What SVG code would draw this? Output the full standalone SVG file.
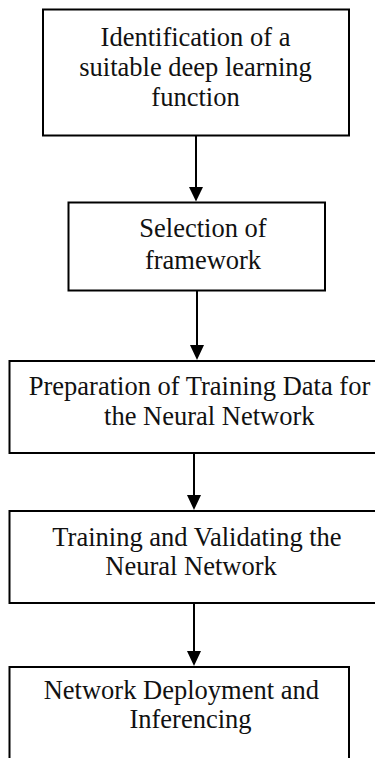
<svg xmlns="http://www.w3.org/2000/svg" width="375" height="758" viewBox="0 0 375 758">
<style>
.box{fill:#fff;stroke:#000;stroke-width:2}
.t{font-family:"Liberation Serif","Times New Roman",serif;font-size:26.5px;fill:#111;text-anchor:middle}
.ln{stroke:#000;stroke-width:2;fill:none}
.ah{fill:#000}
</style>
<rect width="375" height="758" fill="#fff"/>
<g id="connectors">
<line class="ln" x1="196" y1="135.5" x2="196" y2="188"/>
<polygon class="ah" points="189,187 203,187 196,201.5"/>
<line class="ln" x1="197" y1="291" x2="197" y2="346"/>
<polygon class="ah" points="190,345 204,345 197,360"/>
<line class="ln" x1="194" y1="453" x2="194" y2="496"/>
<polygon class="ah" points="187,495 201,495 194,510"/>
<line class="ln" x1="194" y1="603" x2="194" y2="652"/>
<polygon class="ah" points="187,651 201,651 194,666"/>
</g>
<g id="node1">
<rect class="box" x="43" y="9.5" width="306" height="126"/>
<text class="t" x="195.5" y="45.5">Identification of a</text>
<text class="t" x="195.5" y="76">suitable deep learning</text>
<text class="t" x="195.5" y="106">function</text>
</g>
<g id="node2">
<rect class="box" x="68.5" y="202.5" width="256.5" height="88"/>
<text class="t" x="203" y="237">Selection of</text>
<text class="t" x="203" y="269">framework</text>
</g>
<g id="node3">
<rect class="box" x="9.5" y="361" width="380" height="92"/>
<text class="t" x="199.5" y="395">Preparation of Training Data for</text>
<text class="t" x="209.3" y="425">the Neural Network</text>
</g>
<g id="node4">
<rect class="box" x="9.5" y="511" width="380" height="92"/>
<text class="t" x="197" y="546">Training and Validating the</text>
<text class="t" x="191" y="575">Neural Network</text>
</g>
<g id="node5">
<rect class="box" x="9.5" y="667" width="339.5" height="100"/>
<text class="t" x="181.3" y="699">Network Deployment and</text>
<text class="t" x="190.5" y="728">Inferencing</text>
</g>
</svg>
